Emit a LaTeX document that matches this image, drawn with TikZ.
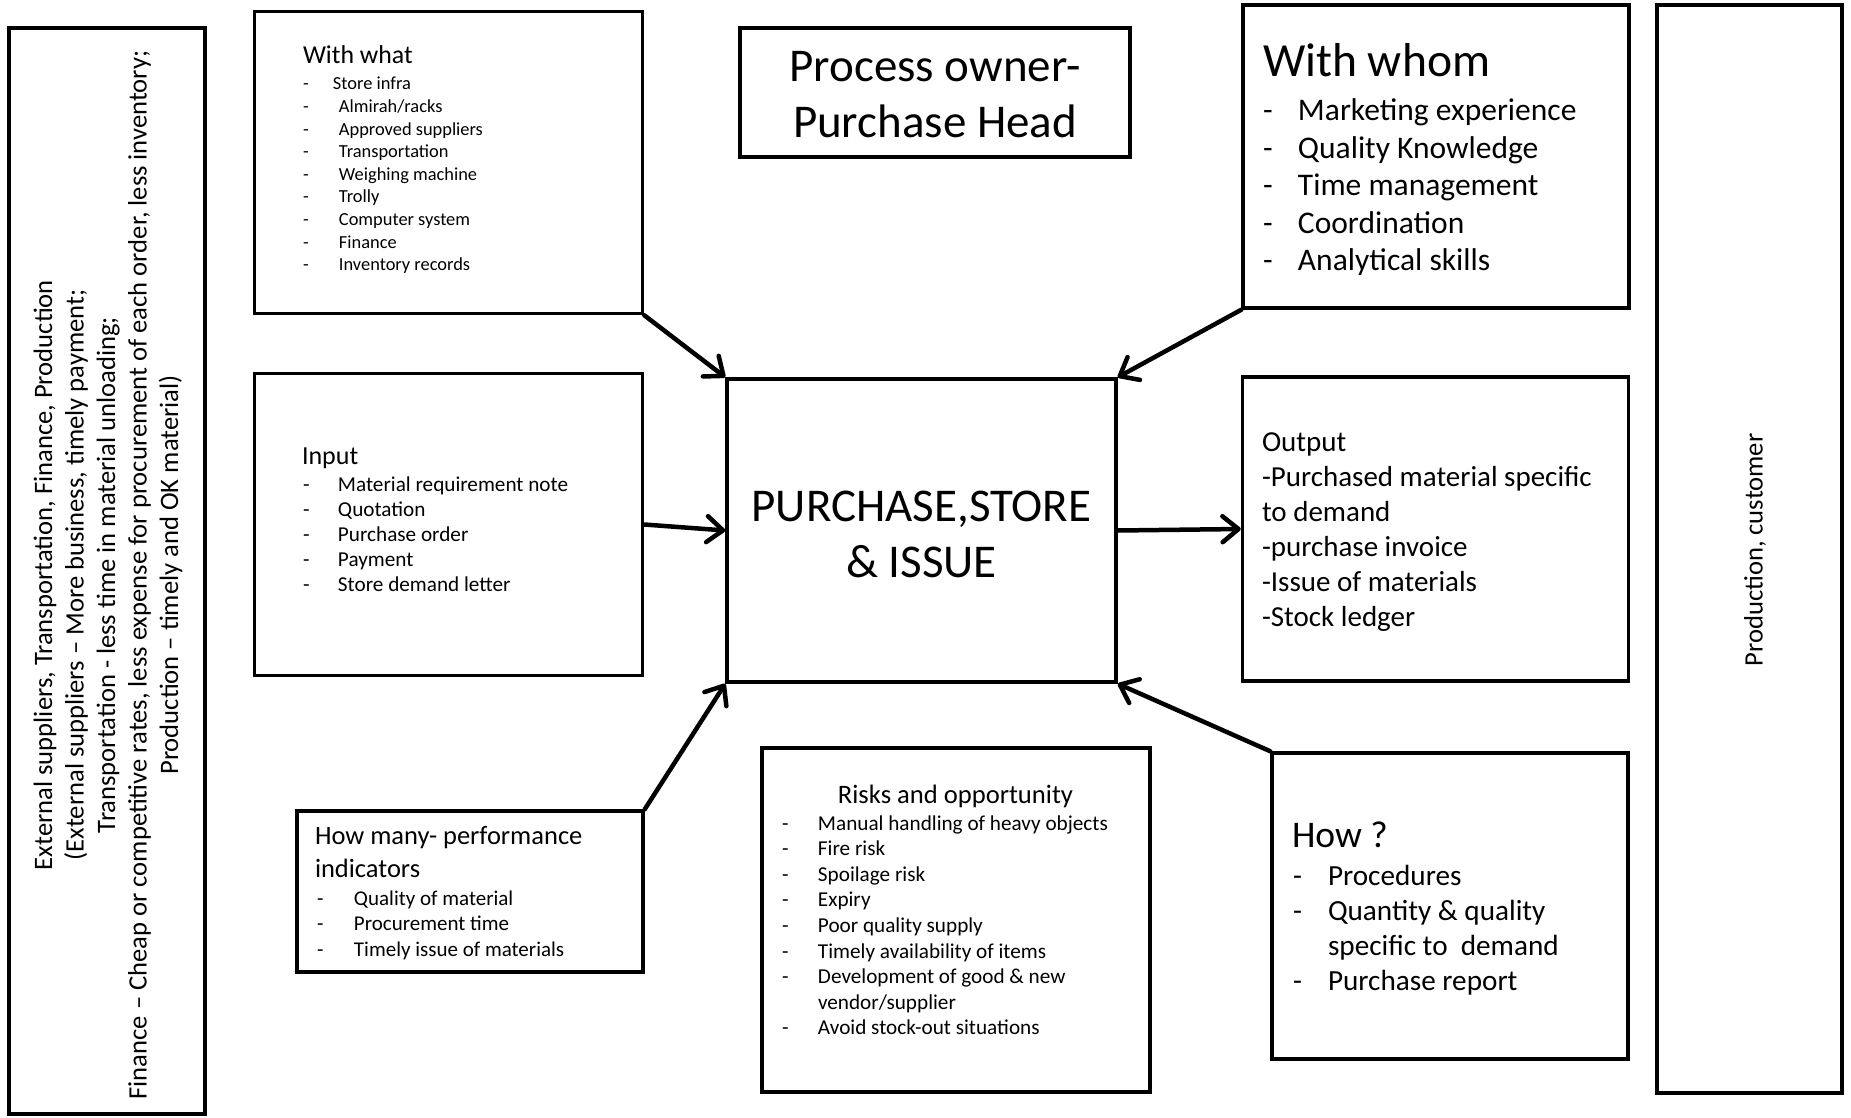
\documentclass[tikz,border=0pt]{standalone}
\usepackage{fontspec}
\setmainfont{Carlito}
\usetikzlibrary{arrows.meta}
\newcommand\dashitem[2]{\makebox[#1][l]{-}#2}
\newcommand\fs[2]{\fontsize{#1}{#2}\selectfont}
\begin{document}
\begin{tikzpicture}[x=0.5pt,y=-0.5pt,
  box/.style={draw, line width=1.75pt, inner sep=0pt, sharp corners},
  txt/.style={inner sep=0pt, outer sep=0pt, anchor=base west},
  ctxt/.style={inner sep=0pt, outer sep=0pt, anchor=base},
  arr/.style={line width=2.25pt, line cap=round, -{Straight Barb[length=8pt,width=13pt,round]}}]
\useasboundingbox (0,0) rectangle (1851,1118);
% boxes
\node[box, minimum width=98pt, minimum height=543pt] (lft) at (107,571) {};
\node[box, minimum width=194pt, minimum height=151pt] (ww) at (448.5,162.5) {};
\node[box, minimum width=195pt, minimum height=64.5pt] (po) at (935,92.5) {};
\node[box, minimum width=193pt, minimum height=151.5pt] (wh) at (1436,156.5) {};
\node[box, minimum width=92.5pt, minimum height=544pt] (rgt) at (1749.5,549) {};
\node[box, minimum width=194pt, minimum height=151pt] (inp) at (448.5,524.5) {};
\node[box, minimum width=194.5pt, minimum height=151.5pt] (ctr) at (921.5,530.5) {};
\node[box, minimum width=193pt, minimum height=152pt] (out) at (1435.5,529) {};
\node[box, minimum width=173pt, minimum height=80.5pt] (hm) at (470,891.5) {};
\node[box, minimum width=194pt, minimum height=172pt] (rk) at (956,920) {};
\node[box, minimum width=178pt, minimum height=153pt] (hw) at (1450,906) {};
% texts
\node[inner sep=0pt, rotate=90, align=center, font=\fs{13.3pt}{15.75pt}] (lfttxt) at (108,575)
 {External suppliers, Transportation, Finance, Production\\
  (External suppliers -- More business, timely payment;\\
  Transportation - less time in material unloading;\\
  Finance -- Cheap or competitive rates, less expense for procurement of each order, less inventory;\\
  Production -- timely and OK material)};
\node[inner sep=0pt, rotate=90, font=\fs{13.3pt}{16pt}] (rgttxt) at (1755,550) {Production, customer};
% with what
\node[txt, font=\fs{12.9pt}{15.7pt}] (wwt) at (303,64) {With what};
\node[txt] (wwl) at (303,90) {\parbox[t]{180pt}{\fs{9.2pt}{11.3pt}%
 \dashitem{15pt}{Store infra}\\
 \dashitem{18pt}{Almirah/racks}\\
 \dashitem{18pt}{Approved suppliers}\\
 \dashitem{18pt}{Transportation}\\
 \dashitem{18pt}{Weighing machine}\\
 \dashitem{18pt}{Trolly}\\
 \dashitem{18pt}{Computer system}\\
 \dashitem{18pt}{Finance}\\
 \dashitem{18pt}{Inventory records}}};
% process owner
\node[ctxt] (pot) at (935,82) {\parbox[t]{190pt}{\centering\fs{23.5pt}{28pt}Process owner-\\Purchase Head}};
% with whom
\node[txt, font=\fs{23.8pt}{28pt}] (wht) at (1263,77) {With whom};
\node[txt] (whl) at (1263,121) {\parbox[t]{185pt}{\fs{15.75pt}{18.75pt}%
 \dashitem{17.5pt}{Marketing experience}\\
 \dashitem{17.5pt}{Quality Knowledge}\\
 \dashitem{17.5pt}{Time management}\\
 \dashitem{17.5pt}{Coordination}\\
 \dashitem{17.5pt}{Analytical skills}}};
% input
\node[txt, font=\fs{13pt}{15.7pt}] (inpt) at (302,464) {Input};
\node[txt] (inpl) at (303,491) {\parbox[t]{180pt}{\fs{10.6pt}{12.6pt}%
 \dashitem{17.5pt}{Material requirement note}\\
 \dashitem{17.5pt}{Quotation}\\
 \dashitem{17.5pt}{Purchase order}\\
 \dashitem{17.5pt}{Payment}\\
 \dashitem{17.5pt}{Store demand letter}}};
% centre
\node[ctxt] (ctrt) at (921.5,521) {\parbox[t]{190pt}{\centering\fs{23.5pt}{28pt}PURCHASE,STORE\\\& ISSUE}};
% output
\node[txt] (outt) at (1262,451) {\parbox[t]{185pt}{\fs{14.5pt}{17.5pt}%
 Output\\
 -Purchased material specific\\
 to demand\\
 -purchase invoice\\
 -Issue of materials\\
 -Stock ledger}};
% how many
\node[txt] (hmt) at (315,844) {\parbox[t]{170pt}{\fs{13.25pt}{16.5pt}How many- performance\\indicators}};
\node[txt] (hml) at (317,905) {\parbox[t]{165pt}{\fs{10.5pt}{12.75pt}%
 \dashitem{18.5pt}{Quality of material}\\
 \dashitem{18.5pt}{Procurement time}\\
 \dashitem{18.5pt}{Timely issue of materials}}};
% risks
\node[ctxt, font=\fs{13.3pt}{16pt}] (rkt) at (955.5,803) {Risks and opportunity};
\node[txt] (rkl) at (782,830) {\parbox[t]{185pt}{\fs{10.6pt}{12.8pt}%
 \dashitem{18pt}{Manual handling of heavy objects}\\
 \dashitem{18pt}{Fire risk}\\
 \dashitem{18pt}{Spoilage risk}\\
 \dashitem{18pt}{Expiry}\\
 \dashitem{18pt}{Poor quality supply}\\
 \dashitem{18pt}{Timely availability of items}\\
 \dashitem{18pt}{Development of good \& new}\\
 \makebox[18pt][l]{}vendor/supplier\\
 \dashitem{18pt}{Avoid stock-out situations}}};
% how
\node[txt, font=\fs{18.8pt}{22pt}] (hwt) at (1292,847) {How ?};
\node[txt] (hwl) at (1293,885) {\parbox[t]{170pt}{\fs{14.6pt}{17.5pt}%
 \dashitem{17.5pt}{Procedures}\\
 \dashitem{17.5pt}{Quantity \& quality}\\
 \makebox[17.5pt][l]{}specific to~ demand\\
 \dashitem{17.5pt}{Purchase report}}};
% arrows
\draw[arr] (ww.south east) -- (ctr.north west);
\draw[arr] (wh.south west) -- (ctr.north east);
\draw[arr] (inp.east) -- (ctr.west);
\draw[arr] (ctr.east) -- (out.west);
\draw[arr] (hm.north east) -- (ctr.south west);
\draw[arr] (hw.north west) -- (ctr.south east);
\end{tikzpicture}
\end{document}
